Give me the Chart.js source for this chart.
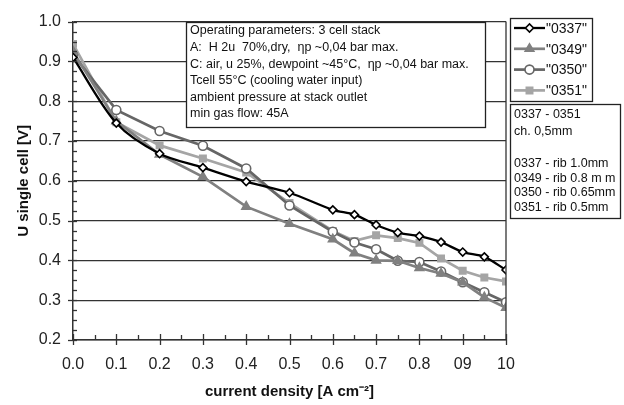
<!DOCTYPE html>
<html>
<head>
<meta charset="utf-8">
<script src="https://cdn.jsdelivr.net/npm/chart.js@4/dist/chart.umd.min.js"></script>
<style>
  html, body { margin: 0; padding: 0; background: #fff; }
  #wrap { position: relative; width: 624px; height: 405px; }
</style>
</head>
<body>
<div id="wrap"><canvas id="cell-chart" width="624" height="405"></canvas></div>
<script>
// current density [A cm-2]
const currentDensity = [0, 0.1, 0.2, 0.3, 0.4, 0.5, 0.6, 0.65, 0.7, 0.75, 0.8, 0.85, 0.9, 0.95, 1.0];
// U single cell [V]
const u0337 = [0.910, 0.745, 0.668, 0.633, 0.598, 0.570, 0.527, 0.515, 0.489, 0.470, 0.461, 0.446, 0.421, 0.409, 0.376];
const u0349 = [0.925, 0.750, 0.666, 0.610, 0.535, 0.492, 0.453, 0.418, 0.400, 0.399, 0.381, 0.367, 0.345, 0.307, 0.281];
const u0350 = [0.917, 0.778, 0.725, 0.688, 0.631, 0.538, 0.472, 0.445, 0.428, 0.399, 0.396, 0.372, 0.345, 0.320, 0.295];
const u0351 = [0.944, 0.747, 0.689, 0.656, 0.621, 0.544, 0.474, 0.449, 0.463, 0.456, 0.444, 0.405, 0.374, 0.357, 0.347];

const seriesNames = ['"0337"', '"0349"', '"0350"', '"0351"'];
const xTickLabels = ['0.0', '0.1', '0.2', '0.3', '0.4', '0.5', '0.6', '0.7', '0.8', '09', '10'];
const yTickLabels = ['0.2', '0.3', '0.4', '0.5', '0.6', '0.7', '0.8', '0.9', '1.0'];

const infoLines = [
  'Operating parameters: 3 cell stack',
  'A:  H 2u  70%,dry,  \u03b7p ~0,04 bar max.',
  'C: air, u 25%, dewpoint ~45\u00b0C,  \u03b7p ~0,04 bar max.',
  'Tcell 55\u00b0C (cooling water input)',
  'ambient pressure at stack outlet',
  'min gas flow: 45A'
];
const ribLines = ['0337 - 0351', 'ch. 0,5mm', '', '0337 - rib 1.0mm', '0349 - rib 0.8 m m', '0350 - rib 0.65mm', '0351 - rib 0.5mm'];

const FONT = "'Liberation Sans', Arial, sans-serif";

const pts = arr => arr.map((v, i) => ({ x: currentDensity[i], y: v }));

const styles = [
  { color: '#000000', fill: '#ffffff', point: 'rectRot', radius: 4, width: 2.3, tension: 0.3 },
  { color: '#808080', fill: '#808080', point: 'triangle', radius: 5, width: 2.7, tension: 0 },
  { color: '#666666', fill: '#ffffff', point: 'circle', radius: 4.5, width: 2.7, tension: 0 },
  { color: '#a5a5a5', fill: '#a5a5a5', point: 'rect', radius: 4.5, width: 2.7, tension: 0 }
];
const values = [u0337, u0349, u0350, u0351];

const datasets = values.map((arr, i) => ({
  label: seriesNames[i],
  data: pts(arr),
  borderColor: styles[i].color,
  borderWidth: styles[i].width,
  pointStyle: styles[i].point,
  pointRadius: styles[i].radius,
  pointBackgroundColor: styles[i].fill,
  pointBorderColor: styles[i].color,
  pointBorderWidth: 1.6,
  tension: styles[i].tension,
  fill: false
}));

// ticks, frame and the text boxes
const decorations = {
  id: 'decorations',
  afterDraw(chart) {
    const { ctx, chartArea: a, scales: { x, y } } = chart;
    ctx.save();
    ctx.strokeStyle = '#333';
    ctx.lineWidth = 1.3;
    // right border
    ctx.beginPath(); ctx.moveTo(a.right, a.top); ctx.lineTo(a.right, a.bottom); ctx.stroke();
    // x ticks
    for (let k = 0; k <= 20; k++) {
      const px = Math.round(x.getPixelForValue(k * 0.05)) + 0.5;
      ctx.beginPath();
      if (k % 2 === 0) { ctx.moveTo(px, a.bottom - 6); ctx.lineTo(px, a.bottom + 5); }
      else { ctx.moveTo(px, a.bottom - 5); ctx.lineTo(px, a.bottom); }
      ctx.stroke();
    }
    // y ticks
    for (let k = 0; k <= 32; k++) {
      const py = Math.round(y.getPixelForValue(0.2 + k * 0.025)) + 0.5;
      ctx.beginPath();
      if (k % 4 === 0) { ctx.moveTo(a.left - 5, py); ctx.lineTo(a.left + 4, py); }
      else { ctx.moveTo(a.left, py); ctx.lineTo(a.left + 4, py); }
      ctx.stroke();
    }

    // operating parameters box
    ctx.fillStyle = '#fff';
    ctx.strokeStyle = '#222';
    ctx.lineWidth = 1.3;
    ctx.fillRect(186.5, 22.5, 299, 105);
    ctx.strokeRect(186.5, 22.5, 299, 105);
    ctx.fillStyle = '#111';
    ctx.font = '12.5px ' + FONT;
    ctx.textBaseline = 'middle';
    ctx.textAlign = 'left';
    infoLines.forEach((t, i) => ctx.fillText(t, 190, 31 + i * 16.6));

    // legend box
    ctx.fillStyle = '#fff';
    ctx.fillRect(510.5, 18.5, 82, 83);
    ctx.strokeRect(510.5, 18.5, 82, 83);
    chart.data.datasets.forEach((ds, i) => {
      const ly = 28 + i * 20.8;
      ctx.strokeStyle = ds.borderColor;
      ctx.lineWidth = ds.borderWidth;
      ctx.beginPath(); ctx.moveTo(514, ly); ctx.lineTo(545, ly); ctx.stroke();
      ctx.fillStyle = ds.pointBackgroundColor;
      ctx.lineWidth = ds.pointBorderWidth;
      if (Chart.helpers && Chart.helpers.drawPoint) {
        Chart.helpers.drawPoint(ctx, { pointStyle: ds.pointStyle, radius: ds.pointRadius, rotation: 0, borderWidth: ds.pointBorderWidth }, 529.5, ly);
      }
      ctx.fillStyle = '#111';
      ctx.font = '14px ' + FONT;
      ctx.fillText(ds.label, 546, ly + 1);
    });

    // rib box
    ctx.strokeStyle = '#222';
    ctx.lineWidth = 1.3;
    ctx.fillStyle = '#fff';
    ctx.fillRect(510.5, 104.5, 110, 114);
    ctx.strokeRect(510.5, 104.5, 110, 114);
    ctx.fillStyle = '#111';
    ctx.font = '12.5px ' + FONT;
    const ribY = [115, 132, 148, 164, 178.5, 193, 207.5];
    ribLines.forEach((t, i) => ctx.fillText(t, 514, ribY[i]));
    ctx.restore();
  }
};

new Chart(document.getElementById('cell-chart'), {
  type: 'line',
  data: { datasets },
  options: {
    responsive: false,
    animation: false,
    layout: { padding: { top: 19, right: 118, left: 0, bottom: 0 } },
    plugins: { legend: { display: false }, tooltip: { enabled: false } },
    scales: {
      x: {
        type: 'linear', min: 0, max: 1,
        afterFit: s => { s.height = 65; },
        ticks: {
          stepSize: 0.1, autoSkip: false, maxRotation: 0, padding: 15,
          color: '#222', font: { family: FONT, size: 16 },
          callback: (v, i) => xTickLabels[i] ?? ''
        },
        grid: { display: false, drawTicks: false },
        border: { display: true, color: '#333', width: 1.5 },
        title: {
          display: true, text: 'current density [A cm\u207b\u00b2]', color: '#111',
          font: { family: FONT, size: 15, weight: 'bold' }, padding: { top: 0, bottom: 4 }
        }
      },
      y: {
        min: 0.2, max: 1.0,
        afterFit: s => { s.width = 73; },
        ticks: {
          stepSize: 0.1, padding: 12, color: '#222', font: { family: FONT, size: 16 },
          callback: (v, i) => yTickLabels[i] ?? ''
        },
        grid: { color: '#333333', lineWidth: 1.3, drawTicks: false },
        border: { display: true, color: '#333', width: 1.5 },
        title: {
          display: true, text: 'U single cell [V]', color: '#111',
          font: { family: FONT, size: 15, weight: 'bold' }, padding: { top: 15, bottom: 0 }
        }
      }
    }
  },
  plugins: [decorations]
});
</script>
</body>
</html>
